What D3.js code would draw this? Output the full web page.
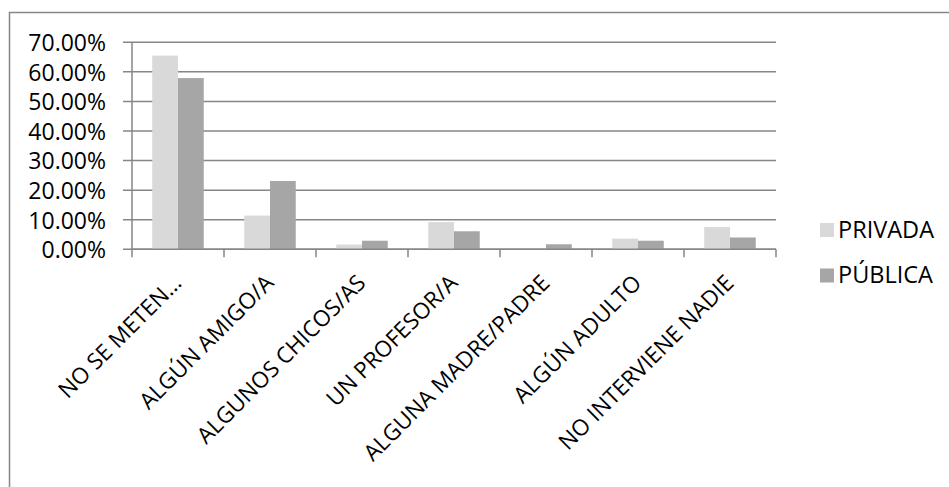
<!DOCTYPE html>
<html>
<head>
<meta charset="utf-8">
<script src="https://cdn.jsdelivr.net/npm/d3@7"></script>
<style>
  html, body { margin: 0; padding: 0; background: #fff; }
  svg { display: block; }
  text { font-family: "Open Sans", "Noto Sans", sans-serif; fill: #000; }
</style>
</head>
<body>
<svg id="chart" width="949" height="487"></svg>
<script>
// Who intervenes, by type of school (share of answers)
const categories = [
  "NO SE METEN…",
  "ALGÚN AMIGO/A",
  "ALGUNOS CHICOS/AS",
  "UN PROFESOR/A",
  "ALGUNA MADRE/PADRE",
  "ALGÚN ADULTO",
  "NO INTERVIENE NADIE"
];
const seriesNames = ["PRIVADA", "PÚBLICA"];
const privada = [65.5, 11.4, 1.6, 9.2, 0.0, 3.6, 7.5];
const publica = [57.9, 23.1, 2.9, 6.1, 1.7, 2.9, 4.0];
const yTicks = [0, 10, 20, 30, 40, 50, 60, 70];
const seriesColors = ["#d9d9d9", "#a6a6a6"];

const svg = d3.select("#chart");
const gridColor = "#868686";

// outer chart frame
svg.append("rect")
  .attr("x", 9.5).attr("y", 12.5)
  .attr("width", 960).attr("height", 500)
  .attr("fill", "none")
  .attr("stroke", gridColor)
  .attr("stroke-width", 1.5);

const plot = { left: 132, right: 776, top: 42.3, bottom: 249.3 };

const x = d3.scaleBand()
  .domain(categories)
  .range([plot.left, plot.right])
  .padding(0);

const xInner = d3.scaleBand()
  .domain(seriesNames)
  .range([x.bandwidth() * 0.22, x.bandwidth() * 0.78])
  .padding(0);

const y = d3.scaleLinear()
  .domain([0, 70])
  .range([plot.bottom, plot.top]);

// horizontal gridlines with the left tick stubs
svg.append("g")
  .selectAll("line")
  .data(yTicks)
  .join("line")
  .attr("x1", plot.left - 9)
  .attr("x2", plot.right)
  .attr("y1", d => y(d))
  .attr("y2", d => y(d))
  .attr("stroke", gridColor)
  .attr("stroke-width", 1.5);

// value axis labels
const yAxis = d3.axisLeft(y)
  .tickValues(yTicks)
  .tickSize(0)
  .tickPadding(0)
  .tickFormat(d => d3.format(".2f")(d) + "%");

svg.append("g")
  .attr("transform", `translate(${plot.left - 26},0)`)
  .call(yAxis)
  .call(g => g.select(".domain").remove())
  .call(g => g.selectAll("text")
    .attr("font-size", 23)
    .attr("dy", "0.36em")
    .style("font-family", "'Open Sans', sans-serif")
    .attr("fill", "#000"));

// bars
const rows = categories.map((c, i) => ({ cat: c, vals: [privada[i], publica[i]] }));
svg.append("g")
  .selectAll("g")
  .data(rows)
  .join("g")
  .attr("transform", d => `translate(${x(d.cat)},0)`)
  .selectAll("rect")
  .data(d => d.vals.map((v, j) => ({ name: seriesNames[j], v, j })))
  .join("rect")
  .attr("x", d => xInner(d.name))
  .attr("width", xInner.bandwidth())
  .attr("y", d => y(d.v))
  .attr("height", d => y(0) - y(d.v))
  .attr("fill", d => seriesColors[d.j]);

// vertical value axis line
svg.append("line")
  .attr("x1", plot.left).attr("x2", plot.left)
  .attr("y1", plot.top).attr("y2", plot.bottom)
  .attr("stroke", gridColor).attr("stroke-width", 1.5);

// category axis line and boundary ticks
svg.append("line")
  .attr("x1", plot.left).attr("x2", plot.right)
  .attr("y1", plot.bottom).attr("y2", plot.bottom)
  .attr("stroke", gridColor).attr("stroke-width", 1.5);

const boundaries = categories.map(c => x(c)).concat([plot.right]);
svg.append("g")
  .selectAll("line")
  .data(boundaries)
  .join("line")
  .attr("x1", d => d).attr("x2", d => d)
  .attr("y1", plot.bottom).attr("y2", plot.bottom + 8)
  .attr("stroke", gridColor).attr("stroke-width", 1.5);

// rotated category labels
svg.append("g")
  .selectAll("text")
  .data(categories)
  .join("text")
  .attr("transform", d => `translate(${x(d) + x.bandwidth() / 2 + 5},${plot.bottom + 35}) rotate(-45)`)
  .attr("text-anchor", "end")
  .attr("font-size", 22.5)
  .text(d => d);

// legend
const legend = svg.append("g")
  .selectAll("g")
  .data(seriesNames)
  .join("g")
  .attr("transform", (d, i) => `translate(820,${223 + i * 45.5})`);

legend.append("rect")
  .attr("width", 14).attr("height", 14)
  .attr("fill", (d, i) => seriesColors[i]);

legend.append("text")
  .attr("x", 18)
  .attr("y", 14.5)
  .attr("font-size", 23.5)
  .text(d => d);
</script>
</body>
</html>
